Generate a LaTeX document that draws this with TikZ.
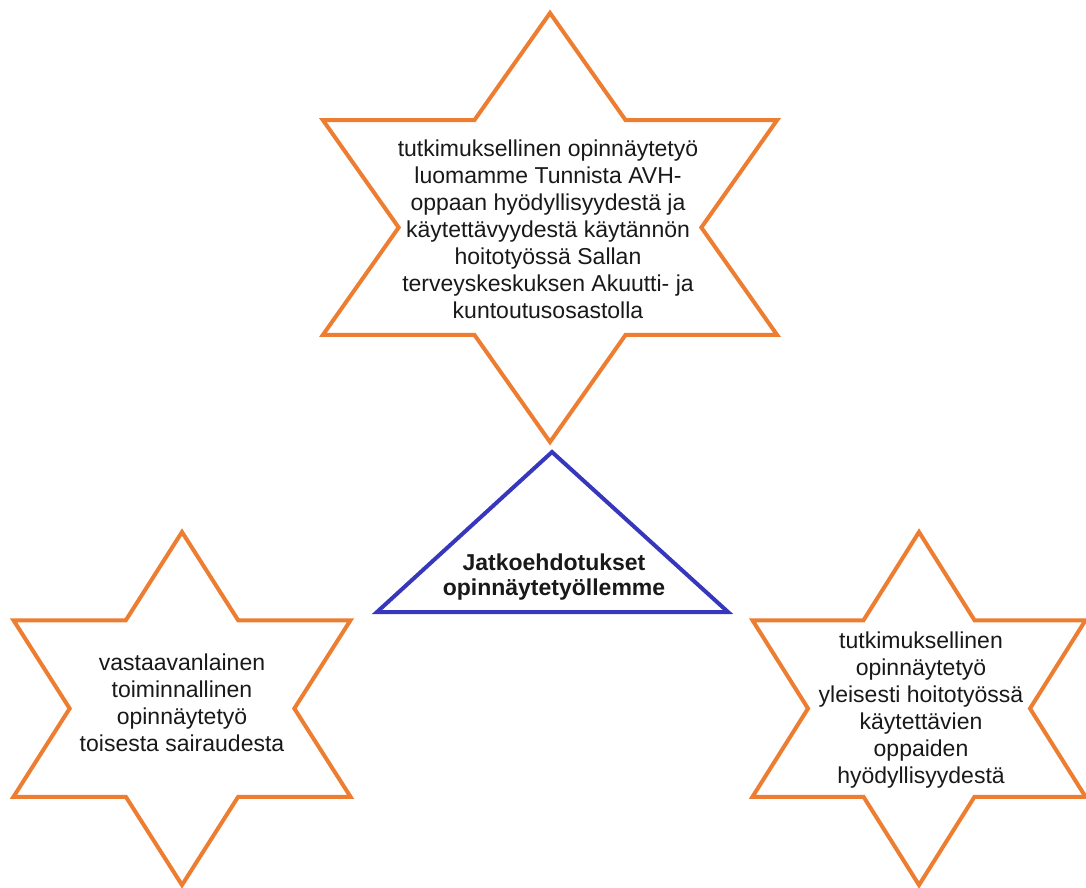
\documentclass[tikz,border=0pt]{standalone}
\usepackage{fontspec}
\setmainfont{Liberation Sans}
\definecolor{starorange}{RGB}{237,125,49}
\definecolor{themeblue}{RGB}{55,55,190}
\tikzstyle{starline} = [draw=starorange, line width=4pt, line join=miter, fill=white]
\tikzstyle{startext} = [align=center, font=\fontsize{23}{27}\selectfont, text=black!90]
\tikzstyle{themetext} = [align=center, font=\bfseries\fontsize{23}{25}\selectfont, text=black!90]
\tikzstyle{themeline} = [draw=themeblue, line width=4pt, line join=miter]
\tikzset{hexstar/.pic={\path[starline] (0,-1) -- (1/3,-1/2) -- (1,-1/2) -- (2/3,0) -- (1,1/2) -- (1/3,1/2) -- (0,1) -- (-1/3,1/2) -- (-1,1/2) -- (-2/3,0) -- (-1,-1/2) -- (-1/3,-1/2) -- cycle;}}

\begin{document}
\begin{tikzpicture}[x=1pt, y=-1pt]
				\useasboundingbox (0,0) rectangle (1086,888);
				\pic[xscale=227, yscale=214.5] at (550,227.5) {hexstar};
				\pic[xscale=168.5, yscale=176.5] at (182,708.5) {hexstar};
				\pic[xscale=166.5, yscale=176.5] at (919,708.5) {hexstar};
				\coordinate (apex) at (552,452);
				\coordinate (baseleft) at (377,612);
				\coordinate (baseright) at (728,612);
				\draw [themeline] (apex) -- (baseleft) -- (baseright) -- cycle;
				\node (topidea)[startext] at (548,229) {tutkimuksellinen opinnäytetyö\\ luomamme Tunnista AVH-\\ oppaan hyödyllisyydestä ja\\ käytettävyydestä käytännön\\ hoitotyössä Sallan\\ terveyskeskuksen Akuutti- ja\\ kuntoutusosastolla};
				\node (leftidea)[startext] at (182,703) {vastaavanlainen\\ toiminnallinen\\ opinnäytetyö\\ toisesta sairaudesta};
				\node (rightidea)[startext] at (921,710) {tutkimuksellinen\\ opinnäytetyö\\ yleisesti hoitotyössä\\ käytettävien\\ oppaiden\\ hyödyllisyydestä};
				\node (theme)[themetext] at (554,577) {Jatkoehdotukset\\ opinnäytetyöllemme};
			\end{tikzpicture}
\end{document}
